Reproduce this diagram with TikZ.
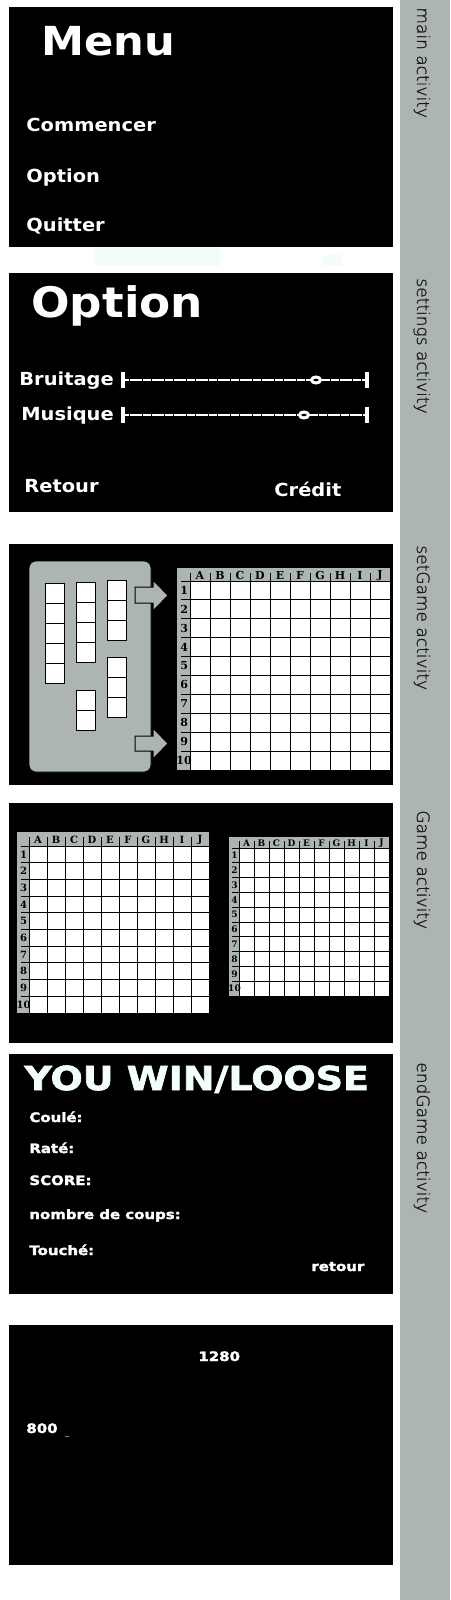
\documentclass[tikz,border=0pt]{standalone}
\usepackage{fontspec}
\usepackage{tikz}
\usetikzlibrary{shapes.geometric}
\newfontfamily\uifont{DejaVu Sans Bold}[FakeStretch=1.08]
\newfontfamily\heavyfont{DejaVu Sans Bold}[FakeStretch=1.15, FakeBold=2]
\newfontfamily\sidefont{DejaVu Sans ExtraLight}[FakeBold=1]
\newfontfamily\gridfont{DejaVu Serif Bold}
\definecolor{stripgray}{RGB}{173,181,177}
\definecolor{mintwhite}{RGB}{242,255,250}
\definecolor{faintcyan}{RGB}{243,252,249}
\definecolor{sidetext}{RGB}{25,25,25}
\tikzset{
  screen/.style = {fill=black},
  ui_title/.style = {white, anchor=base west, inner sep=0pt,
    font=\uifont\fontsize{20}{24}\selectfont},% titre des ecrans
  ui_item/.style = {white, anchor=base west, inner sep=0pt,
    font=\uifont\fontsize{9}{11}\selectfont},% entrees de menu
  end_title/.style = {mintwhite, anchor=base west, inner sep=0pt,
    font=\heavyfont\fontsize{16.5}{19}\selectfont},
  end_item/.style = {white, anchor=base west, inner sep=0pt,
    font=\heavyfont\fontsize{6.5}{8}\selectfont},
  side_lbl/.style = {sidetext, rotate=-90, anchor=base west, inner sep=0pt,
    font=\sidefont\fontsize{8.5}{10}\selectfont},% nom de l'activite
  slider_bar/.style = {rectangle, fill=white, inner sep=0pt,
    minimum width=1.75pt, minimum height=8pt},
  slider_knob/.style = {ellipse, draw=white, line width=1.5pt, inner sep=0pt,
    minimum width=4.5pt, minimum height=3pt},
  slider_line/.style = {white, line width=0.8pt, dash pattern=on 2pt off 0.2pt},
  ship_cell/.style = {fill=white, draw=black, line width=0.5pt},
  grid_line/.style = {black, line width=0.5pt},
  grid_lbl/.style = {black, inner sep=0pt},
  arrow_blk/.style = {fill=stripgray, draw=black, line width=0.5pt},
}
% bateau : x, y, nombre de cases
\newcommand{\ship}[3]{%
  \foreach \k in {1,...,#3}
    \draw[ship_cell] ({#1},{#2+(\k-1)*20}) rectangle ++(19.5,20);
}
% grille : nom, x, y, largeur col. chiffres, hauteur ligne lettres, case l, case h, taille police
\newcommand{\battlegrid}[8]{%
  \fill[stripgray] ({#2},{#3}) rectangle ({#2+#4+10*#6},{#3+#5+10*#7});
  \fill[white] ({#2+#4},{#3+#5}) rectangle ({#2+#4+10*#6},{#3+#5+10*#7});
  \foreach \k in {0,...,10} {
    \draw[grid_line] ({#2+#4+\k*#6},{#3+0.35*#5}) -- ({#2+#4+\k*#6},{#3+#5+10*#7});
    \draw[grid_line] ({#2+0.3*#4},{#3+#5+\k*#7}) -- ({#2+#4+10*#6},{#3+#5+\k*#7});
  }
  \foreach \c [count=\k] in {A,...,J}
    \node[grid_lbl, font=\gridfont\fontsize{#8}{#8}\selectfont] (#1c\k)
      at ({#2+#4+(\k-0.5)*#6},{#3+0.55*#5}) {\c};
  \foreach \r in {1,...,10}
    \node[grid_lbl, font=\gridfont\fontsize{#8}{#8}\selectfont] (#1r\r)
      at ({#2+0.55*#4},{#3+#5+(\r-0.5)*#7}) {\r};
}

\begin{document}
\begin{tikzpicture}[x=0.5pt, y=-0.5pt]
  \useasboundingbox (0,0) rectangle (450,1600);
  \fill[white] (0,0) rectangle (450,1600);
  \fill[stripgray] (400,0) rectangle (450,1600);

  % ecrans
  \fill[screen] (9,7) rectangle (393,247);
  \fill[screen] (9,273) rectangle (393,512);
  \fill[screen] (9,544) rectangle (393,785);
  \fill[screen] (9,803) rectangle (393,1043);
  \fill[screen] (9,1054) rectangle (393,1294);
  \fill[screen] (9,1325) rectangle (393,1565);
  \fill[faintcyan] (94,247) rectangle (220,266);
  \fill[faintcyan] (323,255) rectangle (342,266);

  % noms des activites
  \node[side_lbl] (lmain) at (417,7) {main activity};
  \node[side_lbl] (lset) at (417,278) {settings activity};
  \node[side_lbl] (lsetg) at (417,545) {setGame activity};
  \node[side_lbl] (lgame) at (417,810) {Game activity};
  \node[side_lbl] (lend) at (417,1062) {endGame activity};

  %   main activity
  \node[ui_title] (menu) at (41,56) {Menu};
  \node[ui_item] (start) at (26,132) {Commencer};
  \node[ui_item] (opt) at (26,182) {Option};
  \node[ui_item] (quit) at (26,231) {Quitter};

  %   settings activity
  \node[ui_title, font=\uifont\fontsize{21}{25}\selectfont] (otitle) at (31,317) {Option};
  \node[ui_item] (sfx) at (19,385) {Bruitage};
  \node[ui_item] (music) at (21,420) {Musique};
  \node[slider_bar] (sfxa) at (123,380) {};
  \node[slider_knob] (sfxk) at (316,380) {};
  \node[slider_bar] (sfxb) at (367,380) {};
  \node[slider_bar] (musa) at (123,415) {};
  \node[slider_knob] (musk) at (304,415) {};
  \node[slider_bar] (musb) at (367,415) {};
  \draw[slider_line] (sfxa) -- (sfxk);
  \draw[slider_line] (sfxk) -- (sfxb);
  \draw[slider_line] (musa) -- (musk);
  \draw[slider_line] (musk) -- (musb);
  \node[ui_item] (back) at (24,492) {Retour};
  \node[ui_item] (credit) at (274,496) {Crédit};

  %   setGame activity
  \draw[fill=stripgray, rounded corners=3.5pt] (29,561) rectangle (151,772);
  \draw[arrow_blk] (135,587) -- (153,587) -- (153,580) -- (168,595.5)
    -- (153,611) -- (153,603) -- (135,603) -- cycle;
  \draw[arrow_blk] (135,736) -- (153,736) -- (153,728) -- (168,743.5)
    -- (153,759) -- (153,751) -- (135,751) -- cycle;
  \ship{45}{583}{5}
  \ship{76}{582}{4}
  \ship{107}{580}{3}
  \ship{107}{657}{3}
  \ship{76}{690}{2}
  \battlegrid{p}{177}{568}{13}{13}{20}{18.9}{5.5}

  %   Game activity
  \battlegrid{m}{17}{832}{12}{14}{18}{16.7}{5}
  \battlegrid{e}{229}{837}{10}{11}{15}{14.8}{4.5}

  %   endGame activity
  \node[end_title] (result) at (24,1090) {YOU WIN/LOOSE};
  \node[end_item] (sunk) at (29,1122) {Coulé:};
  \node[end_item] (miss) at (29,1153) {Raté:};
  \node[end_item] (score) at (29,1185) {SCORE:};
  \node[end_item] (shots) at (29,1219) {nombre de coups:};
  \node[end_item] (hit) at (29,1255) {Touché:};
  \node[end_item] (eback) at (311,1271) {retour};

  % taille ecran
  \node[end_item] (width) at (198,1361) {1280};
  \node[end_item] (height) at (26,1433) {800};
  \draw[gray, line width=0.5pt] (65,1436) -- (69,1436);
\end{tikzpicture}
\end{document}
